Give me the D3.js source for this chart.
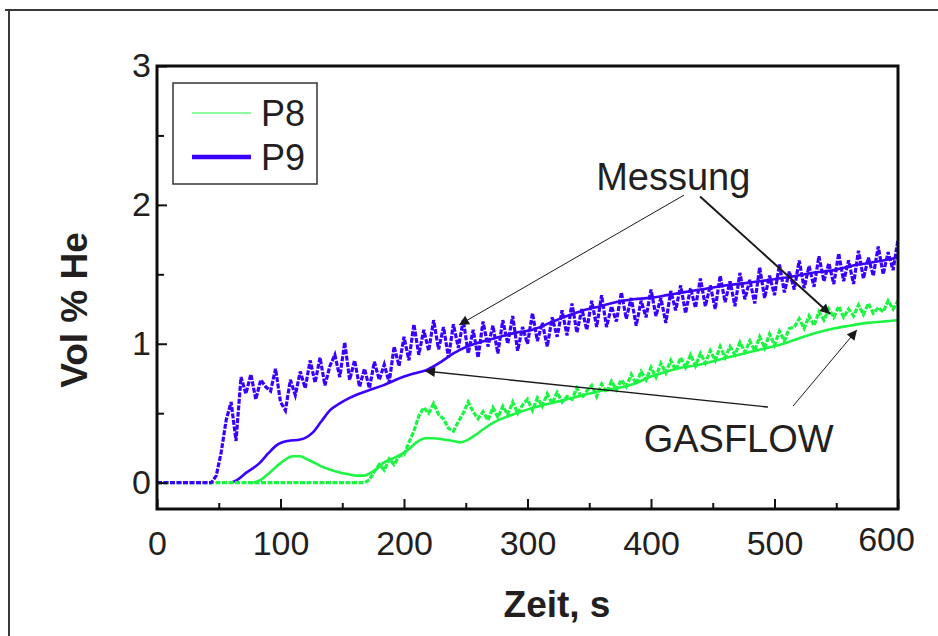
<!DOCTYPE html>
<html><head><meta charset="utf-8">
<script src="https://cdn.jsdelivr.net/npm/d3@7/dist/d3.min.js"></script>
<style>
body{margin:0;background:#fff;}
svg{display:block;font-family:Arial,"Liberation Sans",sans-serif;}
</style></head><body>
<svg id="c" width="938" height="636"></svg>
<script>
// ---------- data ----------
const xTicks = [0,100,200,300,400,500,600];
const xMinor = [50,150,250,350,450,550];
const yTicks = [0,1,2,3];
const yMinor = [0.5,1.5,2.5];
const seriesNames = ["P8","P9"];

// measured (Messung), 4 s sampling starting at t = 0
const measStep = 4;
const measP9 = [0,0,0,0,0,0,0,0,0,0,0,0,
 0.05,0.22,0.45,0.58,0.3,0.76,0.64,0.78,0.6,0.74,0.69,0.66,0.82,0.58,0.52,0.74,0.63,0.8,0.68,0.88,0.72,0.9,0.7,0.84,
 0.92,0.76,1.01,0.74,0.88,0.69,0.82,0.68,0.87,0.74,0.85,0.72,0.98,0.84,1.05,0.88,1.14,0.92,1.1,0.95,1.17,0.96,1.12,0.9,
 1.14,0.97,1.17,0.93,1.1,0.9,1.16,0.98,1.13,0.93,1.17,1.0,1.2,0.95,1.12,1.0,1.22,1.02,1.15,0.98,1.19,1.05,1.24,1.06,
 1.29,1.08,1.25,1.1,1.31,1.12,1.35,1.12,1.27,1.16,1.37,1.18,1.33,1.13,1.31,1.19,1.39,1.2,1.33,1.15,1.38,1.24,1.42,1.22,
 1.4,1.26,1.47,1.27,1.42,1.25,1.49,1.3,1.45,1.27,1.51,1.32,1.46,1.29,1.55,1.33,1.49,1.35,1.57,1.37,1.52,1.39,1.6,1.4,
 1.56,1.41,1.63,1.45,1.58,1.43,1.65,1.45,1.6,1.43,1.67,1.47,1.62,1.49,1.7,1.5,1.66,1.53,1.75];
const measP8 = [0,0,0,0,0,0,0,0,0,0,0,0,0,0,0,0,0,0,0,0,0,0,0,0,0,0,0,0,0,0,0,0,0,0,0,0,0,0,0,0,0,0,0,
 0.02,0.08,0.13,0.09,0.17,0.13,0.19,0.2,0.29,0.37,0.48,0.54,0.5,0.57,0.49,0.46,0.39,0.37,0.44,0.5,0.58,0.51,0.46,0.51,
 0.45,0.54,0.47,0.55,0.49,0.58,0.5,0.56,0.6,0.52,0.61,0.55,0.64,0.57,0.65,0.58,0.62,0.6,0.68,0.61,0.66,0.7,0.62,0.71,
 0.65,0.73,0.67,0.74,0.69,0.78,0.71,0.8,0.74,0.83,0.76,0.86,0.79,0.88,0.81,0.9,0.83,0.92,0.84,0.93,0.86,0.95,0.88,0.98,
 0.9,0.98,0.92,1.01,0.94,1.02,0.95,1.05,0.97,1.07,0.99,1.09,1.02,1.11,1.12,1.18,1.11,1.2,1.13,1.23,1.17,1.25,1.19,1.27,
 1.19,1.25,1.2,1.28,1.21,1.29,1.22,1.26,1.23,1.31,1.25,1.31];

// GASFLOW simulation
const gasP9T = [60,65,72,83,90,97,106,116,126,133,140,148,156,170,183,199,210,218,230,240,251,265,278,291,304,318,332,345,359,372,386,399,413,426,440,460,480,496,512,530,548,562,575,588,600];
const gasP9V = [0,0.02,0.07,0.14,0.21,0.27,0.3,0.31,0.36,0.44,0.52,0.57,0.61,0.66,0.7,0.76,0.79,0.81,0.87,0.93,0.98,1.02,1.05,1.08,1.1,1.15,1.2,1.24,1.27,1.3,1.32,1.33,1.35,1.37,1.39,1.42,1.44,1.46,1.48,1.51,1.53,1.56,1.58,1.6,1.62];
const gasP8T = [78,84,91,100,110,116,121,128,135,145,155,162,168,173,178,183,190,199,205,210,218,224,232,240,245,252,259,265,272,282,291,305,318,332,345,359,372,386,399,413,426,440,453,466,480,494,507,520,534,548,561,575,588,600];
const gasP8V = [0,0.02,0.07,0.14,0.19,0.19,0.17,0.14,0.11,0.08,0.06,0.05,0.05,0.07,0.1,0.14,0.17,0.21,0.25,0.29,0.32,0.32,0.31,0.3,0.29,0.31,0.35,0.39,0.43,0.47,0.5,0.54,0.57,0.6,0.63,0.66,0.68,0.71,0.76,0.8,0.83,0.85,0.88,0.91,0.94,0.97,1.0,1.04,1.08,1.11,1.13,1.15,1.16,1.17];

// annotations (data coordinates)
const annMessung = {label:"Messung", t:418, v:2.11};
const annGasflow = {label:"GASFLOW", t:471, v:0.22};
const arrowsFrom = [[426.7,2.07],[439.7,2.06],[494.7,0.544],[515,0.551]];
const arrowsTo   = [[244.5,1.135],[545,1.215],[217,0.804],[566.8,1.10]];
const arrowWidths = [1,2,1.4,1];

// ---------- drawing ----------
const svg = d3.select("#c");
const W = 938, H = 636;
const L = 157, R = 898, T = 66, B = 509;
const x = d3.scaleLinear().domain([0,600]).range([L,R]);
const y = d3.scaleLinear().domain([-0.19,3]).range([B,T]);
const blue = "#3a00ff", green = "#1cf542", ink = "#231f20";

// outer frame
svg.append("path").attr("d",`M5,10 H${W} M9,10 V${H}`).attr("fill","none").attr("stroke","#3a3a3a").attr("stroke-width",2);

const defs = svg.append("defs");
defs.append("clipPath").attr("id","clip").append("rect").attr("x",L).attr("y",T).attr("width",R-L).attr("height",B-T);
defs.append("marker").attr("id","ah").attr("viewBox","0 0 10 10").attr("refX",10).attr("refY",5)
  .attr("markerWidth",12).attr("markerHeight",10).attr("markerUnits","userSpaceOnUse").attr("orient","auto")
  .append("path").attr("d","M0,0 L10,5 L0,10 Z").attr("fill","#1a1a1a");

const g = svg.append("g").attr("clip-path","url(#clip)");
const line = d3.line().x(d=>x(d[0])).y(d=>y(d[1]));
const smooth = d3.line().x(d=>x(d[0])).y(d=>y(d[1])).curve(d3.curveMonotoneX);

const gp9 = gasP9T.map((t,i)=>[t,gasP9V[i]]);
const gp8 = gasP8T.map((t,i)=>[t,gasP8V[i]]);
const mp9 = measP9.map((v,i)=>[i*measStep,v]);
const mp8 = measP8.map((v,i)=>[i*measStep,v]);

g.append("path").datum(gp9).attr("d",smooth).attr("fill","none").attr("stroke",blue).attr("stroke-width",2.6);
g.append("path").datum(gp8).attr("d",smooth).attr("fill","none").attr("stroke",green).attr("stroke-width",2.6);
g.append("path").datum(mp8).attr("d",line).attr("fill","none").attr("stroke",green).attr("stroke-width",3.2)
  .attr("stroke-dasharray","5,1.5").attr("stroke-linejoin","miter");
g.append("path").datum(mp9).attr("d",line).attr("fill","none").attr("stroke",blue).attr("stroke-width",3.2)
  .attr("stroke-dasharray","5,1.5").attr("stroke-linejoin","miter");

// axes
const fs = 34;
const ax = svg.append("g").attr("transform",`translate(0,${B})`)
  .call(d3.axisBottom(x).tickValues(xTicks).tickSize(-10).tickPadding(22).tickFormat(d3.format("d")));
const axm = svg.append("g").attr("transform",`translate(0,${B})`)
  .call(d3.axisBottom(x).tickValues(xMinor).tickSize(-6).tickFormat(""));
const ay = svg.append("g").attr("transform",`translate(${L},0)`)
  .call(d3.axisLeft(y).tickValues(yTicks).tickSize(-10).tickPadding(6).tickFormat(d3.format("d")));
const aym = svg.append("g").attr("transform",`translate(${L},0)`)
  .call(d3.axisLeft(y).tickValues(yMinor).tickSize(-7).tickFormat(""));
[ax,axm,ay,aym].forEach(a=>{
  a.select(".domain").remove();
  a.selectAll(".tick line").attr("stroke","#111").attr("stroke-width",2);
  a.selectAll("text").attr("fill",ink).attr("font-size",fs).attr("font-family","Arial, 'Liberation Sans', sans-serif");
});
ax.selectAll(".tick text").attr("dy","0.71em");
ax.selectAll(".tick").filter(d=>d===600).select("text").attr("dx",-12).attr("y",18);

// plot frame
svg.append("rect").attr("x",L).attr("y",T).attr("width",R-L).attr("height",B-T)
  .attr("fill","none").attr("stroke","#0d0d0d").attr("stroke-width",3);

// axis titles
svg.append("text").attr("x",557).attr("y",617).attr("text-anchor","middle")
  .attr("font-weight","bold").attr("font-size",37).attr("fill",ink).text("Zeit, s");
svg.append("text").attr("transform","translate(87,310) rotate(-90)").attr("text-anchor","middle")
  .attr("font-weight","bold").attr("font-size",37).attr("fill",ink).text("Vol % He");

// legend
const lg = svg.append("g");
lg.append("rect").attr("x",173).attr("y",83).attr("width",144).attr("height",101)
  .attr("fill","#fff").attr("stroke","#333").attr("stroke-width",1.5);
const legStyle = [{c:green,w:1},{c:blue,w:4.5}];
seriesNames.forEach((n,i)=>{
  const yy = 113 + i*44;
  lg.append("line").attr("x1",192).attr("x2",251).attr("y1",yy).attr("y2",yy)
    .attr("stroke",legStyle[i].c).attr("stroke-width",legStyle[i].w);
  lg.append("text").attr("x",261).attr("y",yy+13).attr("font-size",36).attr("fill",ink).text(n);
});

// annotations
arrowsFrom.forEach((f,i)=>{
  const to = arrowsTo[i];
  svg.append("line").attr("x1",x(f[0])).attr("y1",y(f[1])).attr("x2",x(to[0])).attr("y2",y(to[1]))
    .attr("stroke","#1a1a1a").attr("stroke-width",arrowWidths[i]).attr("marker-end","url(#ah)");
});
[annMessung,annGasflow].forEach(a=>{
  svg.append("text").attr("x",x(a.t)).attr("y",y(a.v)).attr("text-anchor","middle")
    .attr("font-size",38).attr("fill",ink).text(a.label);
});
</script></body></html>
